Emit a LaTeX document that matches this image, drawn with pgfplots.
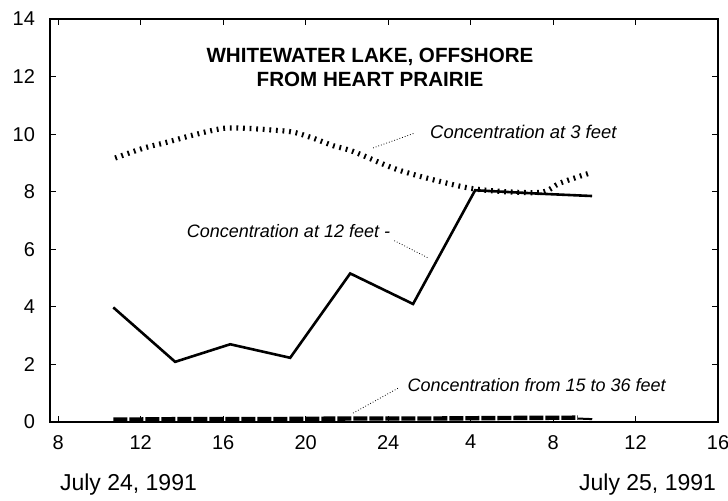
\documentclass[border=0pt]{standalone}
\usepackage{pgfplots}
\pgfplotsset{compat=1.18}
\usepackage{fontspec}
\setmainfont{Liberation Sans}

\begin{document}
\begin{tikzpicture}
% page frame: axis box sits at (0,0)-(334pt,201.5pt)
\useasboundingbox (-25pt,-39.5pt) rectangle (339pt,211pt);
\begin{axis}[
    scale only axis,
    width=334pt, height=201.5pt,
    xmin=7.6, xmax=40,
    ymin=0, ymax=14,
    xtick={8,12,...,40},
    xticklabels={8,12,16,20,24,4,8,12,16},
    ytick={0,2,...,14},
    axis line style={line width=0.7pt},
    major tick length=3pt,
    tick style={black, line width=0.5pt},
    tick label style={font=\fontsize{10}{12}\selectfont},
    /pgf/number format/assume math mode=true,
    xticklabel style={yshift=-3pt},
    yticklabel style={xshift=-4pt},
    clip=false,
]
% ===== concentration at 3 feet (hatched dotted curve) =====
\addplot[smooth, black, line width=2.6pt, dash pattern=on 0.9pt off 2.4pt] coordinates {
    (10.76,9.17) (12.12,9.51) (13.28,9.72) (14.55,9.97) (16.0,10.2)
    (17.16,10.2) (18.42,10.14) (19.39,10.07) (20.36,9.86) (21.33,9.6)
    (22.3,9.40) (24.24,8.82) (25.89,8.47) (27.98,8.12) (29.92,7.99)
    (31.52,7.99) (32.34,8.3) (33.79,8.65)};
% ===== concentration at 12 feet =====
\addplot[black, line width=1.3pt] coordinates {
    (10.67,3.98) (13.67,2.09) (16.34,2.70) (19.25,2.23) (22.16,5.16)
    (25.21,4.10) (28.22,8.05) (31.37,7.93) (33.89,7.85)};
% ===== concentration from 15 to 36 feet =====
\addplot[black, line width=2.2pt, dash pattern=on 7pt off 1pt] coordinates {
    (10.67,0.08) (14,0.10) (18,0.10) (22,0.12) (26,0.12) (30,0.14) (33.2,0.15)};
\addplot[black, line width=1pt] coordinates {(33.2,0.12) (33.9,0.10)};

% title
\node[align=center, font=\fontsize{10.3}{12}\selectfont\bfseries]
    at (rel axis cs:0.479,0.881) {WHITEWATER LAKE, OFFSHORE\\FROM HEART PRAIRIE};

% labels with dotted leaders
\node[anchor=west, font=\fontsize{9.2}{11}\selectfont\itshape] at (axis cs:25.7,10.07) {Concentration at 3 feet};
\draw[densely dotted, line width=0.4pt] (axis cs:23.27,9.52) -- (axis cs:25.3,10.04);

\node[anchor=west, font=\fontsize{9}{11}\selectfont\itshape] at (axis cs:13.9,6.62) {Concentration at 12 feet -};
\draw[densely dotted, line width=0.4pt] (axis cs:24.3,6.30) -- (axis cs:25.94,5.70);

\node[anchor=west, font=\fontsize{9}{11}\selectfont\itshape] at (axis cs:24.6,1.29) {Concentration from 15 to 36 feet};
\draw[densely dotted, line width=0.4pt] (axis cs:22.3,0.31) -- (axis cs:24.5,1.18);
\end{axis}

% dates under the time axis
\node[anchor=west, font=\fontsize{11.5}{13}\selectfont] at (1.5pt,-31.5pt) {July 24, 1991};
\node[anchor=east, font=\fontsize{11.5}{13}\selectfont] at (336.5pt,-31.5pt) {July 25, 1991};
\end{tikzpicture}
\end{document}
